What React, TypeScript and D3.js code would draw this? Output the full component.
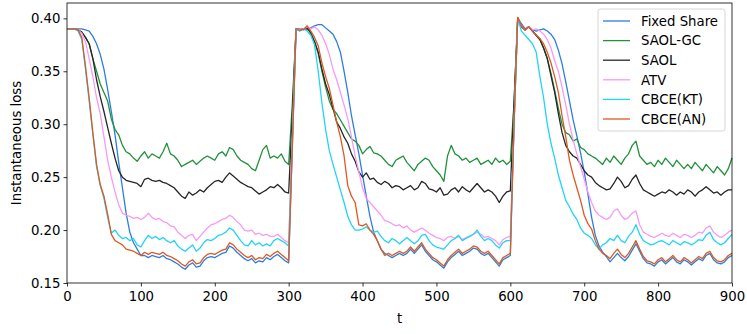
import React, { useEffect, useRef } from "react";
import * as d3 from "d3";

// sampled every 5 steps, t = 0..900
const tSteps = d3.range(0, 905, 5);

const fixedShare = [
  0.390, 0.390, 0.390, 0.390, 0.390, 0.389, 0.388, 0.383, 0.376, 0.366,
  0.352, 0.333, 0.312, 0.290, 0.264, 0.240, 0.216, 0.198, 0.188, 0.182,
  0.176, 0.176, 0.174, 0.176, 0.175, 0.174, 0.176, 0.173, 0.172, 0.170,
  0.168, 0.165, 0.163, 0.167, 0.169, 0.165, 0.166, 0.171, 0.174, 0.175,
  0.174, 0.176, 0.178, 0.179, 0.185, 0.183, 0.179, 0.176, 0.173, 0.171,
  0.173, 0.169, 0.171, 0.170, 0.174, 0.172, 0.175, 0.177, 0.174, 0.171,
  0.169, 0.280, 0.390, 0.388, 0.390, 0.389, 0.391, 0.393, 0.394, 0.394,
  0.391, 0.388, 0.385, 0.378, 0.368, 0.350, 0.330, 0.308, 0.290, 0.272,
  0.252, 0.232, 0.213, 0.198, 0.190, 0.182, 0.178, 0.176, 0.174, 0.176,
  0.178, 0.176, 0.178, 0.182, 0.178, 0.182, 0.186, 0.180, 0.176, 0.172,
  0.170, 0.167, 0.164, 0.170, 0.174, 0.177, 0.180, 0.176, 0.178, 0.180,
  0.183, 0.182, 0.178, 0.176, 0.178, 0.174, 0.170, 0.166, 0.172, 0.174,
  0.176, 0.300, 0.400, 0.395, 0.390, 0.392, 0.389, 0.388, 0.389, 0.390,
  0.388, 0.385, 0.380, 0.370, 0.357, 0.340, 0.322, 0.304, 0.289, 0.273,
  0.255, 0.234, 0.212, 0.195, 0.185, 0.179, 0.175, 0.170, 0.174, 0.178,
  0.174, 0.171, 0.175, 0.181, 0.187, 0.180, 0.173, 0.169, 0.168, 0.166,
  0.170, 0.172, 0.168, 0.171, 0.174, 0.170, 0.168, 0.172, 0.170, 0.167,
  0.170, 0.173, 0.171, 0.176, 0.178, 0.172, 0.169, 0.168, 0.170, 0.174,
  0.176,
];

const saolGc = [
  0.390, 0.390, 0.390, 0.389, 0.387, 0.382, 0.376, 0.362, 0.350, 0.338,
  0.330, 0.322, 0.305, 0.295, 0.290, 0.280, 0.274, 0.272, 0.268, 0.265,
  0.270, 0.274, 0.268, 0.272, 0.270, 0.268, 0.274, 0.282, 0.272, 0.270,
  0.266, 0.260, 0.262, 0.264, 0.266, 0.262, 0.265, 0.268, 0.270, 0.268,
  0.266, 0.272, 0.274, 0.270, 0.278, 0.276, 0.270, 0.266, 0.264, 0.262,
  0.258, 0.256, 0.266, 0.276, 0.280, 0.268, 0.270, 0.268, 0.272, 0.265,
  0.262, 0.320, 0.390, 0.389, 0.390, 0.391, 0.386, 0.378, 0.367, 0.350,
  0.335, 0.322, 0.314, 0.310, 0.304, 0.298, 0.292, 0.286, 0.284, 0.280,
  0.272, 0.276, 0.279, 0.273, 0.272, 0.270, 0.266, 0.262, 0.260, 0.266,
  0.268, 0.270, 0.264, 0.260, 0.256, 0.262, 0.265, 0.268, 0.266, 0.260,
  0.256, 0.252, 0.246, 0.270, 0.280, 0.272, 0.270, 0.266, 0.268, 0.264,
  0.266, 0.268, 0.262, 0.264, 0.266, 0.262, 0.268, 0.264, 0.266, 0.262,
  0.265, 0.320, 0.401, 0.393, 0.389, 0.392, 0.388, 0.384, 0.380, 0.372,
  0.362, 0.348, 0.332, 0.315, 0.300, 0.292, 0.290, 0.284, 0.286, 0.278,
  0.276, 0.272, 0.270, 0.268, 0.265, 0.262, 0.268, 0.264, 0.270, 0.266,
  0.262, 0.268, 0.272, 0.280, 0.284, 0.270, 0.266, 0.262, 0.264, 0.260,
  0.266, 0.262, 0.268, 0.264, 0.260, 0.266, 0.262, 0.258, 0.262, 0.258,
  0.264, 0.260, 0.256, 0.262, 0.258, 0.254, 0.260, 0.256, 0.252, 0.258,
  0.268,
];

const saol = [
  0.390, 0.390, 0.390, 0.389, 0.387, 0.382, 0.376, 0.362, 0.342, 0.326,
  0.312, 0.297, 0.282, 0.268, 0.256, 0.250, 0.247, 0.246, 0.245, 0.244,
  0.241, 0.248, 0.249, 0.247, 0.246, 0.247, 0.245, 0.244, 0.242, 0.240,
  0.236, 0.232, 0.230, 0.236, 0.233, 0.235, 0.238, 0.236, 0.240, 0.243,
  0.246, 0.247, 0.245, 0.250, 0.254, 0.251, 0.248, 0.245, 0.243, 0.241,
  0.240, 0.237, 0.234, 0.236, 0.238, 0.241, 0.240, 0.243, 0.240, 0.236,
  0.235, 0.310, 0.390, 0.389, 0.390, 0.391, 0.386, 0.378, 0.368, 0.352,
  0.338, 0.328, 0.315, 0.302, 0.296, 0.288, 0.282, 0.272, 0.265, 0.255,
  0.250, 0.254, 0.248, 0.249, 0.245, 0.243, 0.246, 0.244, 0.240, 0.242,
  0.241, 0.238, 0.240, 0.242, 0.238, 0.240, 0.246, 0.244, 0.239, 0.238,
  0.236, 0.240, 0.233, 0.234, 0.238, 0.240, 0.236, 0.241, 0.238, 0.236,
  0.240, 0.244, 0.240, 0.236, 0.238, 0.236, 0.232, 0.226, 0.232, 0.236,
  0.237, 0.320, 0.400, 0.392, 0.389, 0.392, 0.388, 0.384, 0.380, 0.372,
  0.362, 0.346, 0.330, 0.310, 0.292, 0.280, 0.274, 0.270, 0.268, 0.262,
  0.256, 0.252, 0.250, 0.245, 0.242, 0.240, 0.238, 0.239, 0.244, 0.250,
  0.246, 0.240, 0.242, 0.248, 0.252, 0.244, 0.238, 0.236, 0.234, 0.232,
  0.234, 0.236, 0.235, 0.238, 0.236, 0.233, 0.236, 0.234, 0.238, 0.236,
  0.232, 0.236, 0.238, 0.241, 0.238, 0.235, 0.236, 0.233, 0.236, 0.238,
  0.238,
];

const atv = [
  0.390, 0.390, 0.390, 0.389, 0.386, 0.378, 0.362, 0.345, 0.325, 0.310,
  0.288, 0.266, 0.250, 0.236, 0.224, 0.216, 0.214, 0.213, 0.211, 0.212,
  0.210, 0.212, 0.216, 0.212, 0.210, 0.211, 0.208, 0.207, 0.204, 0.203,
  0.198, 0.195, 0.192, 0.195, 0.196, 0.190, 0.194, 0.198, 0.202, 0.205,
  0.206, 0.208, 0.210, 0.211, 0.214, 0.212, 0.208, 0.205, 0.200, 0.199,
  0.200, 0.196, 0.197, 0.195, 0.196, 0.194, 0.194, 0.196, 0.193, 0.190,
  0.188, 0.290, 0.390, 0.389, 0.390, 0.392, 0.390, 0.392, 0.389, 0.384,
  0.376, 0.366, 0.352, 0.342, 0.330, 0.318, 0.305, 0.288, 0.270, 0.255,
  0.240, 0.230, 0.226, 0.222, 0.218, 0.214, 0.209, 0.208, 0.206, 0.204,
  0.205, 0.202, 0.204, 0.200, 0.198, 0.200, 0.202, 0.200, 0.197, 0.195,
  0.193, 0.192, 0.190, 0.193, 0.194, 0.192, 0.194, 0.191, 0.193, 0.194,
  0.196, 0.198, 0.196, 0.193, 0.194, 0.192, 0.190, 0.186, 0.191, 0.193,
  0.194, 0.300, 0.401, 0.393, 0.389, 0.392, 0.389, 0.390, 0.388, 0.385,
  0.380, 0.372, 0.360, 0.350, 0.335, 0.318, 0.300, 0.285, 0.272, 0.260,
  0.248, 0.236, 0.226, 0.218, 0.214, 0.212, 0.210, 0.212, 0.218, 0.220,
  0.214, 0.210, 0.212, 0.216, 0.218, 0.205, 0.198, 0.196, 0.194, 0.193,
  0.195, 0.197, 0.195, 0.194, 0.197, 0.195, 0.193, 0.196, 0.195, 0.193,
  0.195, 0.198, 0.197, 0.202, 0.204, 0.198, 0.195, 0.193, 0.195, 0.198,
  0.200,
];

const cbceKt = [
  0.390, 0.390, 0.390, 0.388, 0.380, 0.352, 0.322, 0.290, 0.260, 0.242,
  0.230, 0.212, 0.197, 0.200, 0.195, 0.192, 0.193, 0.190, 0.192, 0.186,
  0.184, 0.190, 0.195, 0.192, 0.194, 0.191, 0.193, 0.190, 0.188, 0.190,
  0.185, 0.182, 0.180, 0.183, 0.186, 0.180, 0.183, 0.188, 0.191, 0.190,
  0.192, 0.195, 0.196, 0.198, 0.202, 0.200, 0.195, 0.190, 0.186, 0.185,
  0.190, 0.186, 0.188, 0.185, 0.187, 0.185, 0.190, 0.192, 0.190, 0.188,
  0.185, 0.285, 0.390, 0.389, 0.390, 0.388, 0.384, 0.375, 0.350, 0.320,
  0.295, 0.275, 0.262, 0.250, 0.238, 0.226, 0.213, 0.205, 0.200, 0.200,
  0.201, 0.203, 0.200, 0.198, 0.199, 0.194, 0.190, 0.188, 0.192, 0.190,
  0.187, 0.190, 0.193, 0.190, 0.187, 0.190, 0.195, 0.196, 0.190, 0.186,
  0.184, 0.183, 0.182, 0.186, 0.190, 0.192, 0.195, 0.190, 0.192, 0.194,
  0.196, 0.200, 0.194, 0.190, 0.192, 0.190, 0.186, 0.183, 0.188, 0.190,
  0.190, 0.300, 0.400, 0.388, 0.384, 0.380, 0.376, 0.368, 0.345, 0.325,
  0.300, 0.282, 0.268, 0.252, 0.240, 0.228, 0.222, 0.215, 0.210, 0.202,
  0.197, 0.195, 0.192, 0.186, 0.182, 0.186, 0.188, 0.192, 0.190, 0.195,
  0.190, 0.188, 0.194, 0.198, 0.205, 0.196, 0.190, 0.188, 0.186, 0.187,
  0.189, 0.190, 0.188, 0.186, 0.190, 0.188, 0.186, 0.189, 0.188, 0.186,
  0.188, 0.191, 0.190, 0.195, 0.198, 0.191, 0.188, 0.186, 0.188, 0.192,
  0.196,
];

const cbceAn = [
  0.390, 0.390, 0.390, 0.389, 0.382, 0.355, 0.325, 0.292, 0.262, 0.243,
  0.232, 0.215, 0.196, 0.190, 0.188, 0.186, 0.182, 0.181, 0.180, 0.178,
  0.176, 0.179, 0.177, 0.179, 0.178, 0.177, 0.179, 0.176, 0.175, 0.173,
  0.171, 0.168, 0.166, 0.170, 0.172, 0.168, 0.169, 0.174, 0.177, 0.178,
  0.177, 0.179, 0.181, 0.182, 0.188, 0.186, 0.182, 0.179, 0.176, 0.174,
  0.176, 0.172, 0.174, 0.173, 0.177, 0.175, 0.178, 0.180, 0.177, 0.174,
  0.171, 0.280, 0.390, 0.390, 0.389, 0.393, 0.388, 0.382, 0.374, 0.358,
  0.345, 0.334, 0.318, 0.302, 0.288, 0.270, 0.242, 0.232, 0.226, 0.205,
  0.204, 0.206, 0.200, 0.196, 0.190, 0.182, 0.176, 0.178, 0.176, 0.178,
  0.180, 0.178, 0.180, 0.184, 0.180, 0.184, 0.188, 0.182, 0.178, 0.174,
  0.172, 0.169, 0.166, 0.172, 0.176, 0.179, 0.182, 0.178, 0.180, 0.182,
  0.185, 0.184, 0.180, 0.178, 0.180, 0.176, 0.172, 0.168, 0.174, 0.176,
  0.178, 0.300, 0.401, 0.393, 0.389, 0.392, 0.388, 0.384, 0.381, 0.376,
  0.368, 0.358, 0.345, 0.330, 0.308, 0.288, 0.266, 0.252, 0.240, 0.228,
  0.214, 0.206, 0.201, 0.190, 0.182, 0.178, 0.176, 0.173, 0.178, 0.182,
  0.177, 0.174, 0.178, 0.184, 0.190, 0.182, 0.175, 0.171, 0.170, 0.168,
  0.172, 0.174, 0.170, 0.173, 0.176, 0.172, 0.170, 0.174, 0.172, 0.169,
  0.172, 0.175, 0.173, 0.178, 0.180, 0.174, 0.171, 0.170, 0.172, 0.176,
  0.178,
];

const seriesNames = ["Fixed Share", "SAOL-GC", "SAOL", "ATV", "CBCE(KT)", "CBCE(AN)"];
const seriesValues = [fixedShare, saolGc, saol, atv, cbceKt, cbceAn];
const seriesColors = ["#2e7ddb", "#21913c", "#262626", "#f79af5", "#22d3f5", "#dd5a24"];

const yTicks = [0.15, 0.2, 0.25, 0.3, 0.35, 0.4];
const xTicks = [0, 100, 200, 300, 400, 500, 600, 700, 800, 900];

const FONT = "DejaVu Sans, sans-serif";
const FS = 13.3;

const App = () => {
  const svgRef = useRef(null);

  useEffect(() => {
    const W = 747, H = 334;
    const left = 67, right = 732, top = 3, bottom = 283;

    const svg = d3.select(svgRef.current);
    svg.selectAll("*").remove();
    svg.attr("width", W).attr("height", H);

    const x = d3.scaleLinear().domain([0, 900]).range([left, right]);
    const y = d3.scaleLinear().domain([0.15, 0.4145]).range([bottom, top]);

    // lines
    const line = d3.line<number>()
      .x((d, i) => x(tSteps[i]))
      .y((d) => y(d));

    const lines = svg.append("g");
    seriesValues.forEach((vals, i) => {
      lines.append("path")
        .attr("d", line(vals))
        .attr("fill", "none")
        .attr("stroke", seriesColors[i])
        .attr("stroke-width", 1.3)
        .attr("stroke-linejoin", "round");
    });

    // axes
    const xAxis = d3.axisBottom(x).tickValues(xTicks).tickSize(3.5).tickPadding(5.5)
      .tickFormat(d3.format("d"));
    const yAxis = d3.axisLeft(y).tickValues(yTicks).tickSize(3.5).tickPadding(3)
      .tickFormat(d3.format(".2f"));

    const gx = svg.append("g").attr("transform", `translate(0,${bottom})`).call(xAxis);
    const gy = svg.append("g").attr("transform", `translate(${left},0)`).call(yAxis);
    [gx, gy].forEach((g) => {
      g.select(".domain").remove();
      g.selectAll("line").attr("stroke", "#000").attr("stroke-width", 0.8);
      g.selectAll("text").attr("font-family", FONT).attr("font-size", FS).attr("fill", "#000");
    });

    // frame
    svg.append("rect")
      .attr("x", left).attr("y", top)
      .attr("width", right - left).attr("height", bottom - top)
      .attr("fill", "none").attr("stroke", "#000").attr("stroke-width", 0.8);

    // axis labels
    svg.append("text")
      .attr("x", (left + right) / 2).attr("y", 323)
      .attr("text-anchor", "middle")
      .attr("font-family", FONT).attr("font-size", FS)
      .text("t");
    svg.append("text")
      .attr("transform", `translate(21,${(top + bottom) / 2}) rotate(-90)`)
      .attr("text-anchor", "middle")
      .attr("font-family", FONT).attr("font-size", FS)
      .text("Instantaneous loss");

    // legend
    const lg = svg.append("g");
    lg.append("rect")
      .attr("x", 598).attr("y", 9).attr("width", 127).attr("height", 122)
      .attr("rx", 2.5)
      .attr("fill", "#fff").attr("fill-opacity", 0.8)
      .attr("stroke", "#cccccc").attr("stroke-width", 0.8);
    seriesNames.forEach((name, i) => {
      const yy = 21 + i * 19.6;
      lg.append("line")
        .attr("x1", 603).attr("x2", 630).attr("y1", yy).attr("y2", yy)
        .attr("stroke", seriesColors[i]).attr("stroke-width", 1.3);
      lg.append("text")
        .attr("x", 641).attr("y", yy + 4.8)
        .attr("font-family", FONT).attr("font-size", FS)
        .text(name);
    });
  }, []);

  return <svg ref={svgRef} style={{ position: "absolute", left: 0, top: 0 }}></svg>;
};

export default App;
